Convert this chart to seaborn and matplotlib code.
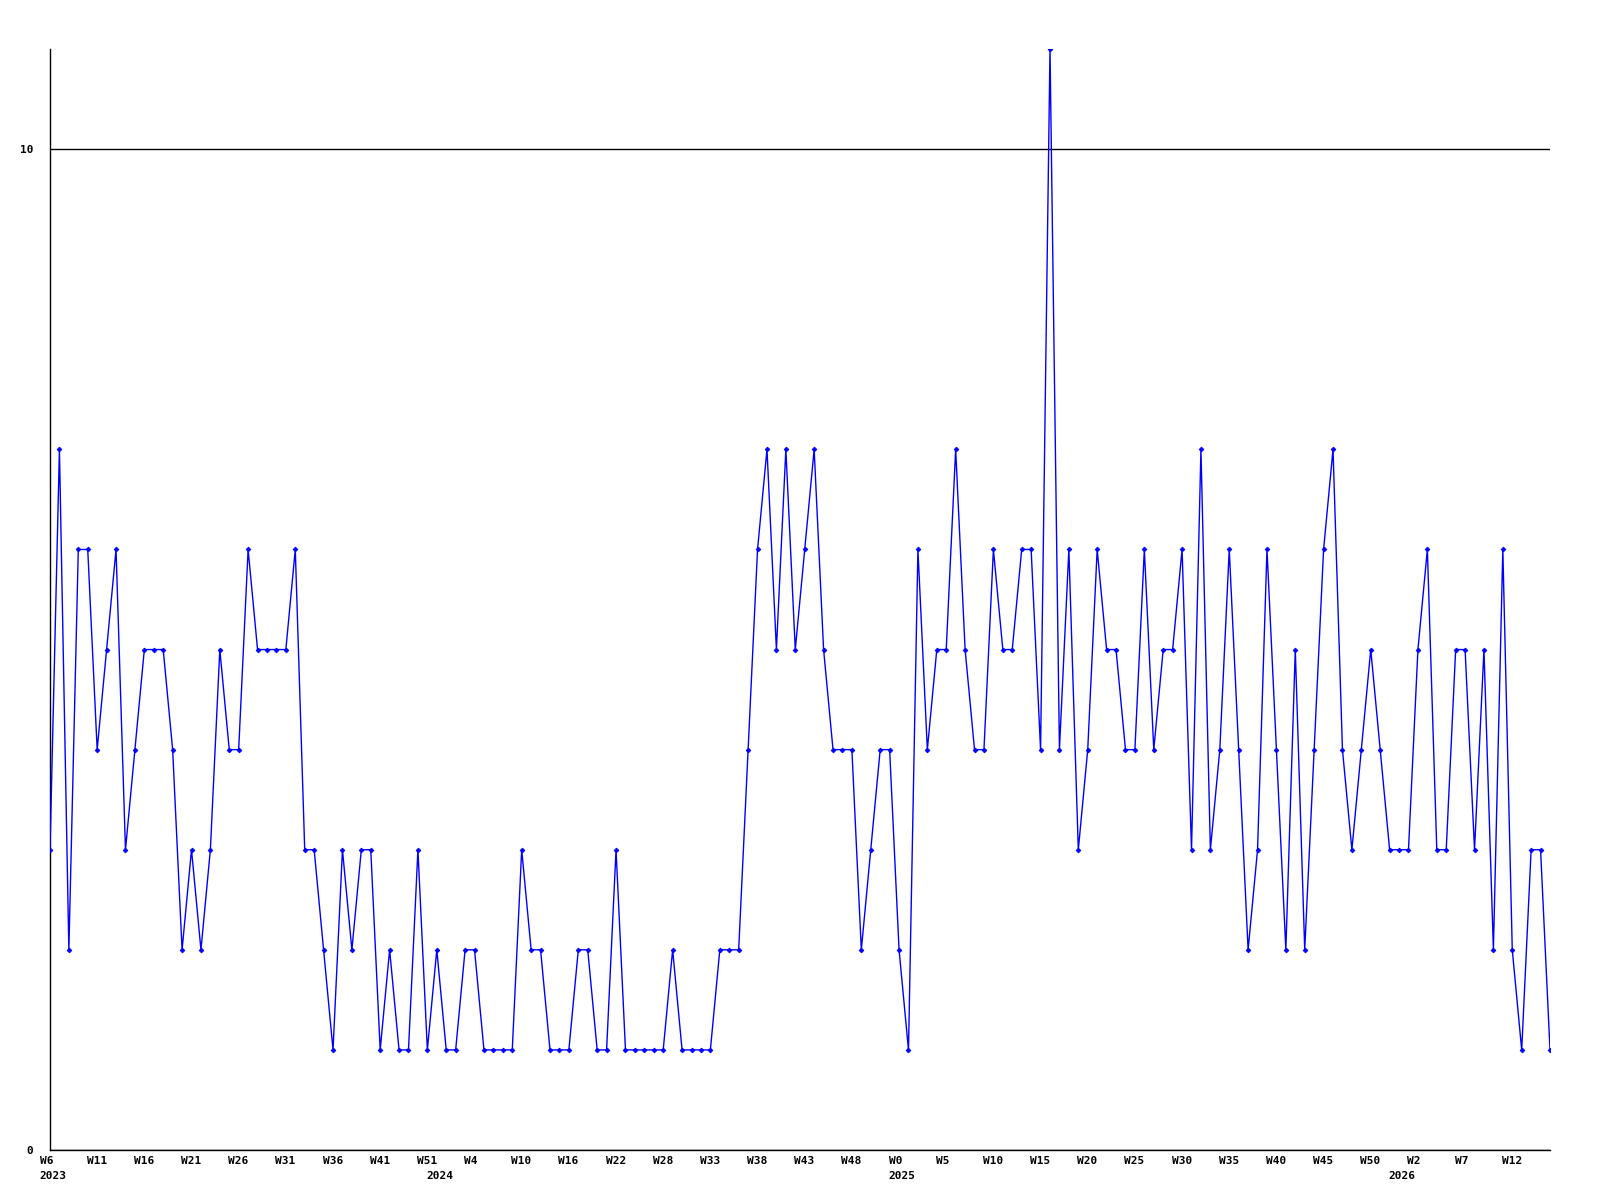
import matplotlib
matplotlib.use("Agg")
import matplotlib.pyplot as plt
import matplotlib.transforms as mtransforms
import seaborn as sns
import numpy as np
import pandas as pd

# ---- data ----
values = [3, 7, 2, 6, 6, 4, 5, 6, 3, 4, 5, 5, 5, 4, 2, 3, 2, 3, 5, 4,
          4, 6, 5, 5, 5, 5, 6, 3, 3, 2, 1, 3, 2, 3, 3, 1, 2, 1, 1, 3,
          1, 2, 1, 1, 2, 2, 1, 1, 1, 1, 3, 2, 2, 1, 1, 1, 2, 2, 1, 1,
          3, 1, 1, 1, 1, 1, 2, 1, 1, 1, 1, 2, 2, 2, 4, 6, 7, 5, 7, 5,
          6, 7, 5, 4, 4, 4, 2, 3, 4, 4, 2, 1, 6, 4, 5, 5, 7, 5, 4, 4,
          6, 5, 5, 6, 6, 4, 11, 4, 6, 3, 4, 6, 5, 5, 4, 4, 6, 4, 5, 5,
          6, 3, 7, 3, 4, 6, 4, 2, 3, 6, 4, 2, 5, 2, 4, 6, 7, 4, 3, 4,
          5, 4, 3, 3, 3, 5, 6, 3, 3, 5, 5, 3, 5, 2, 6, 2, 1, 3, 3, 1]
week_labels = ["W6", "W11", "W16", "W21", "W26", "W31", "W36", "W41", "W51", "W4",
               "W10", "W16", "W22", "W28", "W33", "W38", "W43", "W48", "W0", "W5",
               "W10", "W15", "W20", "W25", "W30", "W35", "W40", "W45", "W50", "W2",
               "W7", "W12"]
week_label_step = 5
year_labels = ["2023", "2024", "2025", "2026"]
year_label_index = [0, 41, 90, 143]
y_ticks = [0, 10]

df = pd.DataFrame({"idx": np.arange(len(values)), "value": values})

sns.set_style("white")
plt.rcParams["font.family"] = ["DejaVu Sans Mono", "DejaVu Sans"]
plt.rcParams["font.weight"] = "bold"
plt.rcParams["text.color"] = "black"

fig = plt.figure(figsize=(16, 12), dpi=100)
ax = fig.add_axes([50 / 1600, 50 / 1200, 1500 / 1600, (1150 - 49) / 1200])

sns.lineplot(data=df, x="idx", y="value", ax=ax, color="#0000ff", linewidth=1.0,
             marker="D", markersize=2.4, markeredgewidth=0.6, markeredgecolor="#0000ff",
             zorder=3)

ax.set_xlim(0, len(values) - 1)
ax.set_ylim(0, 11)
ax.set_xlabel("")
ax.set_ylabel("")

for s in ["top", "right"]:
    ax.spines[s].set_visible(False)
for s in ["left", "bottom"]:
    ax.spines[s].set_color("black")
    ax.spines[s].set_linewidth(1.0)

ax.set_yticks(y_ticks)
ax.set_yticklabels([str(t) for t in y_ticks], fontsize=8, fontweight="bold")
ax.tick_params(axis="y", length=0, pad=12, labelcolor="black")
ax.yaxis.grid(True, color="black", linewidth=1.0)
ax.xaxis.grid(False)
ax.set_axisbelow(True)

week_idx = np.arange(0, len(values), week_label_step)[:len(week_labels)]
ax.set_xticks(week_idx)
ax.set_xticklabels(week_labels, fontsize=8, fontweight="bold")
ax.tick_params(axis="x", length=0, pad=4, labelcolor="black")
shift = mtransforms.ScaledTranslation(-10.5 / 100, 0, fig.dpi_scale_trans)
for lab in ax.get_xticklabels():
    lab.set_horizontalalignment("left")
    lab.set_transform(lab.get_transform() + shift)

ytrans = ax.get_xaxis_transform() + mtransforms.ScaledTranslation(-10.5 / 100, -21 / 100, fig.dpi_scale_trans)
for yl, yi in zip(year_labels, year_label_index):
    ax.text(yi, 0, yl, transform=ytrans, ha="left", va="top", fontsize=8,
            fontweight="bold", color="black")

fig.savefig("out.png", dpi=100, facecolor="white")
